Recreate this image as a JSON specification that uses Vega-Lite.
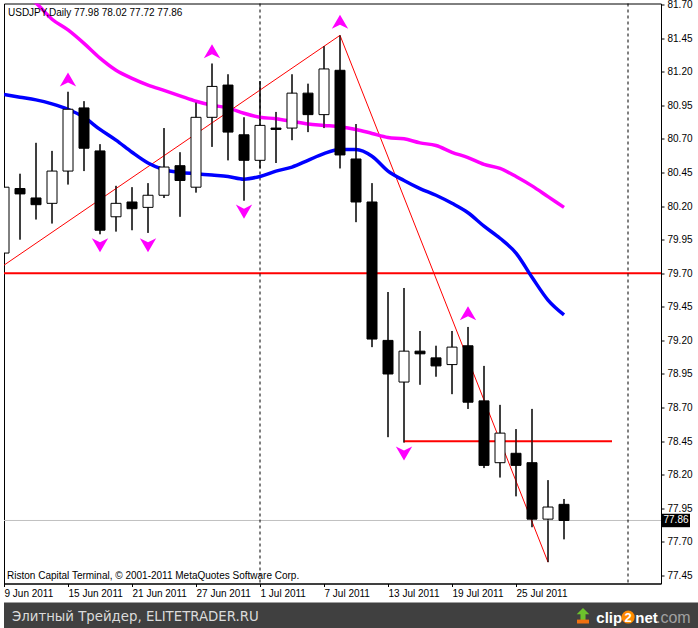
{
  "$schema": "https://vega.github.io/schema/vega-lite/v6.json",
  "background": "white",
  "padding": {"left": 2, "top": -1.5, "right": 0, "bottom": 0},
  "spacing": 0,
  "config": {
    "view": {"stroke": "black", "strokeWidth": 1},
    "font": "Liberation Sans",
    "axis": {"grid": false, "labelOverlap": false},
    "scale": {"continuousPadding": 0}
  },
  "datasets": {
    "candles": [
      {"i":0,"date":"2011-06-09","o":79.85,"h":80.41,"l":79.82,"c":80.34,"fast":81.03,"slow":81.87},
      {"i":1,"date":"2011-06-10","o":80.33,"h":80.44,"l":79.95,"c":80.29,"fast":81.01,"slow":81.79},
      {"i":2,"date":"2011-06-13","o":80.26,"h":80.67,"l":80.10,"c":80.21,"fast":80.99,"slow":81.71},
      {"i":3,"date":"2011-06-14","o":80.22,"h":80.61,"l":80.07,"c":80.46,"fast":80.96,"slow":81.59},
      {"i":4,"date":"2011-06-15","o":80.46,"h":81.05,"l":80.36,"c":80.92,"fast":80.92,"slow":81.51},
      {"i":5,"date":"2011-06-16","o":80.93,"h":80.98,"l":80.46,"c":80.63,"fast":80.86,"slow":81.41},
      {"i":6,"date":"2011-06-17","o":80.61,"h":80.66,"l":79.99,"c":80.02,"fast":80.77,"slow":81.30},
      {"i":7,"date":"2011-06-20","o":80.12,"h":80.35,"l":80.01,"c":80.22,"fast":80.69,"slow":81.21},
      {"i":8,"date":"2011-06-21","o":80.23,"h":80.34,"l":80.02,"c":80.18,"fast":80.60,"slow":81.15},
      {"i":9,"date":"2011-06-22","o":80.19,"h":80.37,"l":80.00,"c":80.28,"fast":80.52,"slow":81.10},
      {"i":10,"date":"2011-06-23","o":80.28,"h":80.78,"l":80.26,"c":80.49,"fast":80.47,"slow":81.06},
      {"i":11,"date":"2011-06-24","o":80.50,"h":80.60,"l":80.12,"c":80.39,"fast":80.45,"slow":81.02},
      {"i":12,"date":"2011-06-27","o":80.34,"h":80.97,"l":80.30,"c":80.86,"fast":80.44,"slow":80.98},
      {"i":13,"date":"2011-06-28","o":80.86,"h":81.26,"l":80.64,"c":81.09,"fast":80.43,"slow":80.95},
      {"i":14,"date":"2011-06-29","o":81.10,"h":81.18,"l":80.54,"c":80.75,"fast":80.42,"slow":80.93},
      {"i":15,"date":"2011-06-30","o":80.73,"h":80.86,"l":80.24,"c":80.54,"fast":80.40,"slow":80.89},
      {"i":16,"date":"2011-07-01","o":80.54,"h":81.13,"l":80.48,"c":80.80,"fast":80.42,"slow":80.86},
      {"i":17,"date":"2011-07-04","o":80.78,"h":80.90,"l":80.52,"c":80.77,"fast":80.46,"slow":80.85},
      {"i":18,"date":"2011-07-05","o":80.78,"h":81.18,"l":80.69,"c":81.04,"fast":80.49,"slow":80.83},
      {"i":19,"date":"2011-07-06","o":81.04,"h":81.11,"l":80.75,"c":80.88,"fast":80.54,"slow":80.81},
      {"i":20,"date":"2011-07-07","o":80.88,"h":81.39,"l":80.78,"c":81.22,"fast":80.59,"slow":80.80},
      {"i":21,"date":"2011-07-08","o":81.21,"h":81.47,"l":80.48,"c":80.58,"fast":80.62,"slow":80.79},
      {"i":22,"date":"2011-07-11","o":80.55,"h":80.81,"l":80.08,"c":80.23,"fast":80.62,"slow":80.77},
      {"i":23,"date":"2011-07-12","o":80.23,"h":80.37,"l":79.15,"c":79.21,"fast":80.57,"slow":80.74},
      {"i":24,"date":"2011-07-13","o":79.20,"h":79.56,"l":78.48,"c":78.95,"fast":80.46,"slow":80.71},
      {"i":25,"date":"2011-07-14","o":78.89,"h":79.59,"l":78.44,"c":79.12,"fast":80.39,"slow":80.70},
      {"i":26,"date":"2011-07-15","o":79.12,"h":79.27,"l":78.87,"c":79.10,"fast":80.33,"slow":80.67},
      {"i":27,"date":"2011-07-18","o":79.07,"h":79.16,"l":78.93,"c":79.01,"fast":80.28,"slow":80.65},
      {"i":28,"date":"2011-07-19","o":79.02,"h":79.27,"l":78.80,"c":79.15,"fast":80.22,"slow":80.60},
      {"i":29,"date":"2011-07-20","o":79.16,"h":79.30,"l":78.69,"c":78.74,"fast":80.15,"slow":80.56},
      {"i":30,"date":"2011-07-21","o":78.75,"h":79.01,"l":78.25,"c":78.27,"fast":80.05,"slow":80.51},
      {"i":31,"date":"2011-07-22","o":78.29,"h":78.72,"l":78.18,"c":78.51,"fast":79.96,"slow":80.48},
      {"i":32,"date":"2011-07-25","o":78.36,"h":78.54,"l":78.04,"c":78.27,"fast":79.85,"slow":80.42},
      {"i":33,"date":"2011-07-26","o":78.29,"h":78.69,"l":77.81,"c":77.87,"fast":79.67,"slow":80.35},
      {"i":34,"date":"2011-07-27","o":77.87,"h":78.16,"l":77.55,"c":77.96,"fast":79.50,"slow":80.27},
      {"i":35,"date":"2011-07-28","o":77.98,"h":78.02,"l":77.72,"c":77.86,"fast":79.39,"slow":80.19}
    ],
    "fractals": [
      {"i":4,"dir":"up","p":81.14},
      {"i":13,"dir":"up","p":81.35},
      {"i":21,"dir":"up","p":81.57},
      {"i":29,"dir":"up","p":79.40},
      {"i":6,"dir":"down","p":79.91},
      {"i":9,"dir":"down","p":79.91},
      {"i":15,"dir":"down","p":80.16},
      {"i":25,"dir":"down","p":78.36}
    ],
    "zigzag": [
      {"i":0,"p":79.76},
      {"i":21,"p":81.47},
      {"i":34,"p":77.55}
    ],
    "levels": [
      {"name":"support","p":79.70},
      {"name":"bid","p":77.86},
      {"name":"resistance","p":78.45,"from":25,"to":38}
    ],
    "separators": [{"i":16},{"i":39}]
  },
  "vconcat": [
    {
      "width": 657,
      "height": 580,
      "layer": [
        {
          "data": {"name": "candles"},
          "mark": {"type": "rule", "color": "black", "strokeWidth": 1, "clip": true},
          "encoding": {
            "x": {
              "field": "i", "type": "quantitative",
              "scale": {"domain": [0, 41.0625], "nice": false, "zero": false},
              "axis": {
                "orient": "bottom",
                "values": [0, 4, 8, 12, 16, 20, 24, 28, 32],
                "tickCount": 50,
                "labelExpr": "['9 Jun 2011','15 Jun 2011','21 Jun 2011','27 Jun 2011','1 Jul 2011','7 Jul 2011','13 Jul 2011','19 Jul 2011','25 Jul 2011'][round(datum.value/4)]",
                "labelAlign": "left",
                "labelBaseline": "top",
                "labelPadding": 2,
                "labelFlush": false,
                "labelOverlap": false,
                "labelFont": "Liberation Sans",
                "labelFontSize": 10,
                "labelColor": "black",
                "tickSize": 3,
                "tickColor": "black",
                "domainColor": "black",
                "grid": false,
                "title": null,
                "minExtent": 18,
                "maxExtent": 18
              }
            },
            "y": {
              "field": "l", "type": "quantitative",
              "scale": {"domain": [77.391, 81.707], "nice": false, "zero": false},
              "axis": {
                "orient": "right",
                "values": [77.45, 77.7, 77.95, 78.2, 78.45, 78.7, 78.95, 79.2, 79.45, 79.7, 79.95, 80.2, 80.45, 80.7, 80.95, 81.2, 81.45, 81.7],
                "tickCount": 50,
                "format": ".2f",
                "labelPadding": 3,
                "labelFlush": false,
                "labelOverlap": false,
                "labelFont": "Liberation Sans",
                "labelFontSize": 10,
                "labelColor": "black",
                "tickSize": 3,
                "tickColor": "black",
                "domainColor": "black",
                "grid": false,
                "title": null
              }
            },
            "y2": {"field": "h"}
          }
        },
        {
          "data": {"name": "levels"},
          "transform": [{"filter": "datum.name === 'support'"}],
          "mark": {"type": "rule", "color": "#ff0000", "strokeWidth": 2},
          "encoding": {"y": {"field": "p", "type": "quantitative", "scale": {"domain": [77.391, 81.707], "nice": false, "zero": false}, "axis": {"title": null}}}
        },
        {
          "data": {"name": "levels"},
          "transform": [{"filter": "datum.name === 'bid'"}],
          "mark": {"type": "rule", "color": "#c0c0c0", "strokeWidth": 1},
          "encoding": {"y": {"field": "p", "type": "quantitative", "scale": {"domain": [77.391, 81.707], "nice": false, "zero": false}, "axis": {"title": null}}}
        },
        {
          "data": {"name": "separators"},
          "mark": {"type": "rule", "color": "black", "strokeWidth": 1, "strokeDash": [3, 3]},
          "encoding": {"x": {"field": "i", "type": "quantitative", "scale": {"domain": [0, 41.0625], "nice": false, "zero": false}, "axis": {"title": null}}}
        },
        {
          "data": {"name": "levels"},
          "transform": [{"filter": "datum.name === 'resistance'"}],
          "mark": {"type": "rule", "color": "#ff0000", "strokeWidth": 2},
          "encoding": {
            "x": {"field": "from", "type": "quantitative", "scale": {"domain": [0, 41.0625], "nice": false, "zero": false}, "axis": {"title": null}},
            "x2": {"field": "to"},
            "y": {"field": "p", "type": "quantitative", "scale": {"domain": [77.391, 81.707], "nice": false, "zero": false}, "axis": {"title": null}}
          }
        },
        {
          "data": {"name": "zigzag"},
          "mark": {"type": "line", "color": "#ff0000", "strokeWidth": 1, "clip": true},
          "encoding": {
            "x": {"field": "i", "type": "quantitative", "scale": {"domain": [0, 41.0625], "nice": false, "zero": false}, "axis": {"title": null}},
            "y": {"field": "p", "type": "quantitative", "scale": {"domain": [77.391, 81.707], "nice": false, "zero": false}, "axis": {"title": null}}
          }
        },
        {
          "data": {"name": "candles"},
          "mark": {"type": "line", "color": "#ff00ff", "strokeWidth": 3.5, "clip": true, "interpolate": "monotone"},
          "encoding": {
            "x": {"field": "i", "type": "quantitative", "scale": {"domain": [0, 41.0625], "nice": false, "zero": false}, "axis": {"title": null}},
            "y": {"field": "slow", "type": "quantitative", "scale": {"domain": [77.391, 81.707], "nice": false, "zero": false}, "axis": {"title": null}}
          }
        },
        {
          "data": {"name": "candles"},
          "mark": {"type": "line", "color": "#0000ff", "strokeWidth": 3.5, "clip": true, "interpolate": "monotone"},
          "encoding": {
            "x": {"field": "i", "type": "quantitative", "scale": {"domain": [0, 41.0625], "nice": false, "zero": false}, "axis": {"title": null}},
            "y": {"field": "fast", "type": "quantitative", "scale": {"domain": [77.391, 81.707], "nice": false, "zero": false}, "axis": {"title": null}}
          }
        },
        {
          "data": {"name": "candles"},
          "mark": {"type": "rule", "color": "black", "strokeWidth": 1, "clip": true},
          "encoding": {
            "x": {"field": "i", "type": "quantitative", "scale": {"domain": [0, 41.0625], "nice": false, "zero": false}, "axis": {"title": null}},
            "y": {"field": "l", "type": "quantitative", "scale": {"domain": [77.391, 81.707], "nice": false, "zero": false}, "axis": {"title": null}},
            "y2": {"field": "h"}
          }
        },
        {
          "data": {"name": "candles"},
          "mark": {"type": "bar", "width": 10, "stroke": "black", "strokeWidth": 1, "clip": true},
          "encoding": {
            "x": {"field": "i", "type": "quantitative", "scale": {"domain": [0, 41.0625], "nice": false, "zero": false}, "axis": {"title": null}},
            "y": {"field": "o", "type": "quantitative", "scale": {"domain": [77.391, 81.707], "nice": false, "zero": false}, "axis": {"title": null}},
            "y2": {"field": "c"},
            "color": {"condition": {"test": "datum.c >= datum.o", "value": "white"}, "value": "black"}
          }
        },
        {
          "data": {"name": "fractals"},
          "transform": [{"filter": "datum.dir === 'up'"}],
          "mark": {"type": "point", "shape": "M0,-0.8 L0.9,0.75 L0,0.3 L-0.9,0.75 Z", "size": 330, "filled": true, "color": "#ff00ff", "opacity": 1},
          "encoding": {
            "x": {"field": "i", "type": "quantitative", "scale": {"domain": [0, 41.0625], "nice": false, "zero": false}, "axis": {"title": null}},
            "y": {"field": "p", "type": "quantitative", "scale": {"domain": [77.391, 81.707], "nice": false, "zero": false}, "axis": {"title": null}}
          }
        },
        {
          "data": {"name": "fractals"},
          "transform": [{"filter": "datum.dir === 'down'"}],
          "mark": {"type": "point", "shape": "M0,0.8 L0.9,-0.75 L0,-0.3 L-0.9,-0.75 Z", "size": 330, "filled": true, "color": "#ff00ff", "opacity": 1},
          "encoding": {
            "x": {"field": "i", "type": "quantitative", "scale": {"domain": [0, 41.0625], "nice": false, "zero": false}, "axis": {"title": null}},
            "y": {"field": "p", "type": "quantitative", "scale": {"domain": [77.391, 81.707], "nice": false, "zero": false}, "axis": {"title": null}}
          }
        },
        {
          "data": {"values": [{}]},
          "mark": {"type": "text", "text": "USDJPY,Daily  77.98 78.02 77.72 77.86", "align": "left", "baseline": "alphabetic", "font": "Liberation Sans", "fontSize": 10, "color": "black"},
          "encoding": {
            "x": {"datum": 0.25, "type": "quantitative", "scale": {"domain": [0, 41.0625], "nice": false, "zero": false}, "axis": {"title": null}},
            "y": {"datum": 81.617, "type": "quantitative", "scale": {"domain": [77.391, 81.707], "nice": false, "zero": false}, "axis": {"title": null}}
          }
        },
        {
          "data": {"values": [{}]},
          "mark": {"type": "text", "text": "Riston Capital Terminal, © 2001-2011 MetaQuotes Software Corp.", "align": "left", "baseline": "alphabetic", "font": "Liberation Sans", "fontSize": 10, "color": "black"},
          "encoding": {
            "x": {"datum": 0.19, "type": "quantitative", "scale": {"domain": [0, 41.0625], "nice": false, "zero": false}, "axis": {"title": null}},
            "y": {"datum": 77.423, "type": "quantitative", "scale": {"domain": [77.391, 81.707], "nice": false, "zero": false}, "axis": {"title": null}}
          }
        },
        {
          "data": {"name": "levels"},
          "transform": [{"filter": "datum.name === 'bid'"}],
          "mark": {"type": "rect", "color": "black", "clip": false},
          "encoding": {
            "x": {"datum": 41.125, "type": "quantitative", "scale": {"domain": [0, 41.0625], "nice": false, "zero": false}, "axis": {"title": null}},
            "x2": {"datum": 42.875},
            "y": {"datum": 77.91, "type": "quantitative", "scale": {"domain": [77.391, 81.707], "nice": false, "zero": false}, "axis": {"title": null}},
            "y2": {"datum": 77.81}
          }
        },
        {
          "data": {"name": "levels"},
          "transform": [{"filter": "datum.name === 'bid'"}],
          "mark": {"type": "text", "align": "center", "baseline": "middle", "font": "Liberation Sans", "fontSize": 10, "color": "white", "clip": false},
          "encoding": {
            "x": {"datum": 42.0, "type": "quantitative", "scale": {"domain": [0, 41.0625], "nice": false, "zero": false}, "axis": {"title": null}},
            "y": {"field": "p", "type": "quantitative", "scale": {"domain": [77.391, 81.707], "nice": false, "zero": false}, "axis": {"title": null}},
            "text": {"field": "p", "type": "quantitative", "format": ".2f"}
          }
        }
      ]
    },
    {
      "width": 696,
      "height": 28,
      "view": {"fill": "#404040", "stroke": null},
      "data": {"values": [{}]},
      "layer": [
        {
          "mark": {"type": "text", "text": "Элитный Трейдер, ELITETRADER.RU", "align": "left", "baseline": "alphabetic", "font": "DejaVu Sans", "fontSize": 13.3, "color": "#dcdcdc"},
          "encoding": {
            "x": {"datum": 1.15, "type": "quantitative", "scale": {"domain": [0, 100], "nice": false, "zero": false}, "axis": null},
            "y": {"datum": 67, "type": "quantitative", "scale": {"domain": [0, 100], "nice": false, "zero": false, "reverse": true}, "axis": null}
          }
        },
        {
          "mark": {"type": "point", "shape": "M0,-1 L1,0 L0.4,0 L0.4,1 L-0.4,1 L-0.4,0 L-1,0 Z", "size": 160, "filled": true, "color": "#6cc32c", "opacity": 1},
          "encoding": {
            "x": {"datum": 83.19, "type": "quantitative", "scale": {"domain": [0, 100], "nice": false, "zero": false}, "axis": null},
            "y": {"datum": 42, "type": "quantitative", "scale": {"domain": [0, 100], "nice": false, "zero": false, "reverse": true}, "axis": null}
          }
        },
        {
          "mark": {"type": "rect", "color": "#f07010"},
          "encoding": {
            "x": {"datum": 82.33, "type": "quantitative", "scale": {"domain": [0, 100], "nice": false, "zero": false}, "axis": null},
            "x2": {"datum": 84.05},
            "y": {"datum": 61, "type": "quantitative", "scale": {"domain": [0, 100], "nice": false, "zero": false, "reverse": true}, "axis": null},
            "y2": {"datum": 75}
          }
        },
        {
          "mark": {"type": "text", "text": "clip", "align": "left", "baseline": "alphabetic", "font": "Liberation Sans", "fontWeight": "bold", "fontSize": 15, "color": "white"},
          "encoding": {
            "x": {"datum": 85.1, "type": "quantitative", "scale": {"domain": [0, 100], "nice": false, "zero": false}, "axis": null},
            "y": {"datum": 72, "type": "quantitative", "scale": {"domain": [0, 100], "nice": false, "zero": false, "reverse": true}, "axis": null}
          }
        },
        {
          "mark": {"type": "point", "shape": "circle", "size": 170, "filled": true, "color": "#ff8a00", "opacity": 1},
          "encoding": {
            "x": {"datum": 89.68, "type": "quantitative", "scale": {"domain": [0, 100], "nice": false, "zero": false}, "axis": null},
            "y": {"datum": 52, "type": "quantitative", "scale": {"domain": [0, 100], "nice": false, "zero": false, "reverse": true}, "axis": null}
          }
        },
        {
          "mark": {"type": "text", "text": "2", "align": "center", "baseline": "middle", "font": "Liberation Sans", "fontWeight": "bold", "fontSize": 13, "color": "white"},
          "encoding": {
            "x": {"datum": 89.68, "type": "quantitative", "scale": {"domain": [0, 100], "nice": false, "zero": false}, "axis": null},
            "y": {"datum": 54, "type": "quantitative", "scale": {"domain": [0, 100], "nice": false, "zero": false, "reverse": true}, "axis": null}
          }
        },
        {
          "mark": {"type": "text", "text": "net", "align": "left", "baseline": "alphabetic", "font": "Liberation Sans", "fontWeight": "bold", "fontSize": 15, "color": "white"},
          "encoding": {
            "x": {"datum": 90.7, "type": "quantitative", "scale": {"domain": [0, 100], "nice": false, "zero": false}, "axis": null},
            "y": {"datum": 72, "type": "quantitative", "scale": {"domain": [0, 100], "nice": false, "zero": false, "reverse": true}, "axis": null}
          }
        },
        {
          "mark": {"type": "text", "text": ".com", "align": "left", "baseline": "alphabetic", "font": "Liberation Sans", "fontSize": 16, "color": "#a0a0a0"},
          "encoding": {
            "x": {"datum": 93.68, "type": "quantitative", "scale": {"domain": [0, 100], "nice": false, "zero": false}, "axis": null},
            "y": {"datum": 72, "type": "quantitative", "scale": {"domain": [0, 100], "nice": false, "zero": false, "reverse": true}, "axis": null}
          }
        }
      ]
    }
  ]
}
